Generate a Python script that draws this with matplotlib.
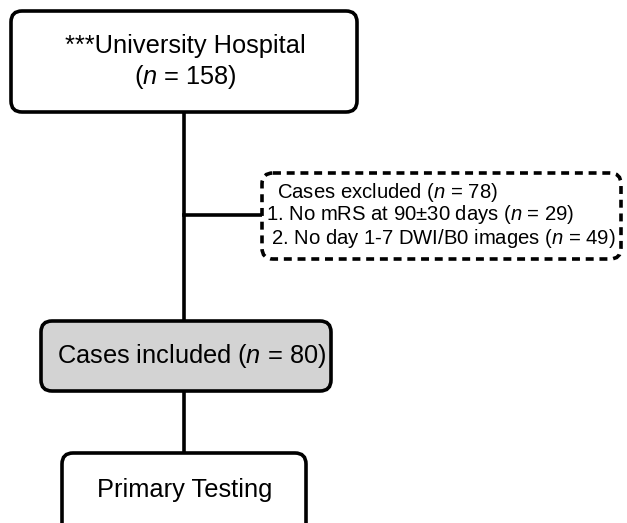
import matplotlib.pyplot as plt
from matplotlib.patches import FancyBboxPatch

plt.rcParams['font.family'] = ['Liberation Sans', 'DejaVu Sans']
plt.rcParams['mathtext.fontset'] = 'custom'
plt.rcParams['mathtext.rm'] = 'Liberation Sans'
plt.rcParams['mathtext.it'] = 'Liberation Sans:italic'

# flow chart content
source_name = '***University Hospital'
n_total = 158
n_excluded = 78
exclusion_reasons = ['No mRS at 90\u00b130 days', 'No day 1-7 DWI/B0 images']
exclusion_counts = [29, 49]
n_included = 80
final_step = 'Primary Testing'

fig = plt.figure(figsize=(6.27, 5.23), dpi=100)
ax = fig.add_axes([0, 0, 1, 1])
ax.set_xlim(0, 627)
ax.set_ylim(523, 0)
ax.axis('off')


def box(x0, y0, x1, y1, face='white', ls='-'):
    p = FancyBboxPatch((x0, y0), x1 - x0, y1 - y0,
                       boxstyle='round,pad=0,rounding_size=11',
                       fc=face, ec='black', lw=2.6, ls=ls, zorder=2)
    ax.add_patch(p)


# connecting lines
ax.plot([184, 184], [112, 321], color='black', lw=2.6, zorder=1)
ax.plot([184, 264], [215, 215], color='black', lw=2.6, zorder=1)
ax.plot([184, 184], [391, 453], color='black', lw=2.6, zorder=1)

# top box
box(11, 11, 357, 112)
ax.text(185, 46, source_name, ha='center', va='center', fontsize=18.3)
ax.text(185, 77, '($n$ = %d)' % n_total, ha='center', va='center', fontsize=18.3)

# exclusion box
box(262, 173, 621, 259, ls=(0, (2.2, 1.6)))
lines = ['Cases excluded ($n$ = %d)' % n_excluded]
for i, (r, c) in enumerate(zip(exclusion_reasons, exclusion_counts)):
    lines.append('%d. %s ($n$ = %d)' % (i + 1, r, c))
ax.text(277, 192, lines[0], ha='left', va='center', fontsize=14.6)
ax.text(266, 215, lines[1], ha='left', va='center', fontsize=14.6)
ax.text(271, 238, lines[2], ha='left', va='center', fontsize=14.6)

# included box
box(41, 321, 331, 391, face='#d3d3d3')
ax.text(192, 356, 'Cases included ($n$ = %d)' % n_included,
        ha='center', va='center', fontsize=18.3)

# final box
box(62, 453, 306, 535)
ax.text(185, 490, final_step, ha='center', va='center', fontsize=18.3)

fig.savefig('out.png', dpi=100)
